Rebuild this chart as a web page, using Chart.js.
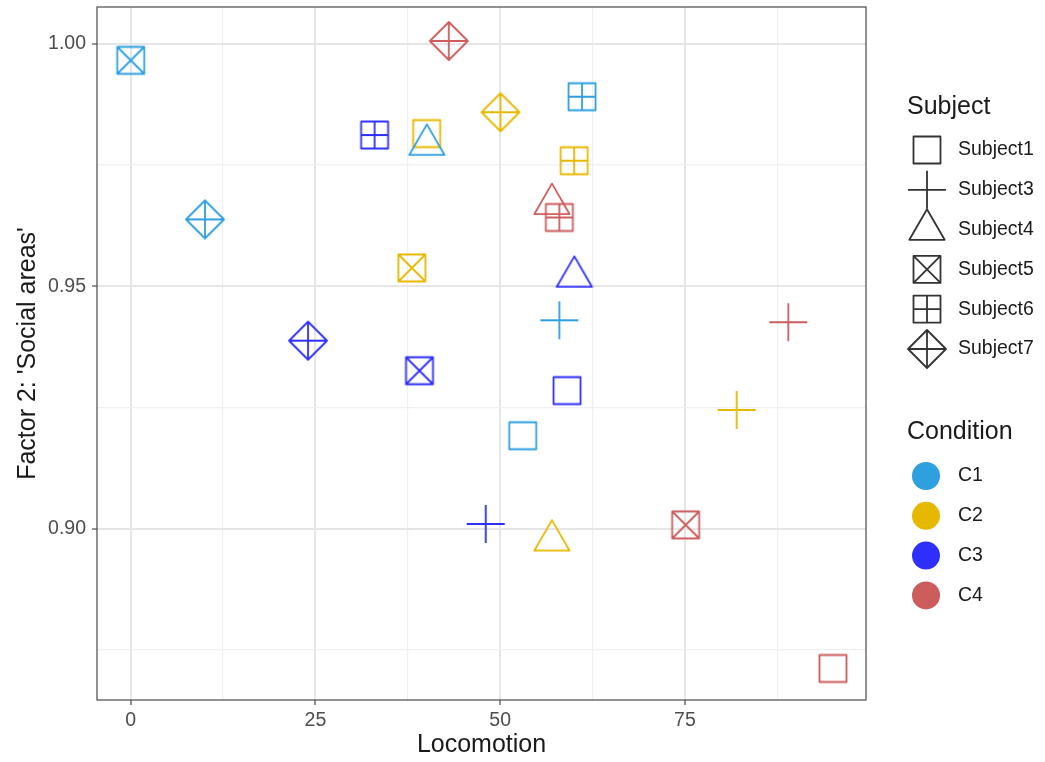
<!DOCTYPE html>
<html>
<head>
<meta charset="utf-8">
<script src="https://cdn.jsdelivr.net/npm/chart.js@4.4.1/dist/chart.umd.min.js"></script>
<style>
  html, body { margin: 0; padding: 0; background: #ffffff; }
  #wrap { position: relative; width: 1045px; height: 762px; }
</style>
</head>
<body>
<div id="wrap"><canvas id="chart"></canvas></div>
<script>
// Categories
const conditions = ['C1', 'C2', 'C3', 'C4'];
const subjects = ['Subject1', 'Subject3', 'Subject4', 'Subject5', 'Subject6', 'Subject7'];
const subjectShapes = ['square', 'plus', 'triangle', 'squareCross', 'squarePlus', 'diamondPlus'];
const conditionColors = ['#2E9FDF', '#E7B800', '#2E2EFF', '#CD5C5C'];

// Locomotion / Factor 2 values per condition, in subject order
const locoC1 = [53.05, 58.0, 40.07, 0.0, 61.07, 10.05];
const socialC1 = [0.9192, 0.9430, 0.9792, 0.9966, 0.9891, 0.9638];
const locoC2 = [40.05, 82.0, 57.0, 38.04, 60.01, 50.04];
const socialC2 = [0.9815, 0.9245, 0.8976, 0.9538, 0.9759, 0.9859];
const locoC3 = [59.04, 48.04, 60.03, 39.08, 33.0, 24.0];
const socialC3 = [0.9285, 0.9010, 0.9520, 0.9326, 0.9812, 0.9388];
const locoC4 = [95.03, 88.98, 57.0, 75.1, 58.0, 43.04];
const socialC4 = [0.8712, 0.9426, 0.9670, 0.9008, 0.9642, 1.0006];

// Axis ticks
const xMajorValues = [0, 25, 50, 75];
const xTickLabels = ['0', '25', '50', '75'];
const xMinorValues = [12.5, 37.5, 62.5, 87.5];
const yMajorValues = [0.90, 0.95, 1.00];
const yTickLabels = ['0.90', '0.95', '1.00'];
const yMinorValues = [0.875, 0.925, 0.975];

const locoByCondition = [locoC1, locoC2, locoC3, locoC4];
const socialByCondition = [socialC1, socialC2, socialC3, socialC4];

const FONT = '"Liberation Sans", Arial, sans-serif';

function drawSymbol(ctx, shape, cx, cy, color, lw) {
  const s = 13.5;     // half side of the square family
  const d = 19;       // half diagonal of diamond / half arm of plus
  const r = 20.4;     // triangle circumradius
  ctx.save();
  ctx.strokeStyle = color;
  ctx.lineWidth = lw;
  ctx.lineJoin = 'round';
  ctx.beginPath();
  if (shape === 'square' || shape === 'squareCross' || shape === 'squarePlus') {
    ctx.rect(cx - s, cy - s, 2 * s, 2 * s);
    if (shape === 'squareCross') {
      ctx.moveTo(cx - s, cy - s); ctx.lineTo(cx + s, cy + s);
      ctx.moveTo(cx + s, cy - s); ctx.lineTo(cx - s, cy + s);
    } else if (shape === 'squarePlus') {
      ctx.moveTo(cx - s, cy); ctx.lineTo(cx + s, cy);
      ctx.moveTo(cx, cy - s); ctx.lineTo(cx, cy + s);
    }
  } else if (shape === 'plus') {
    ctx.moveTo(cx - d, cy); ctx.lineTo(cx + d, cy);
    ctx.moveTo(cx, cy - d); ctx.lineTo(cx, cy + d);
  } else if (shape === 'triangle') {
    ctx.moveTo(cx, cy - r);
    ctx.lineTo(cx + r * Math.sqrt(3) / 2, cy + r / 2);
    ctx.lineTo(cx - r * Math.sqrt(3) / 2, cy + r / 2);
    ctx.closePath();
  } else if (shape === 'diamondPlus') {
    ctx.moveTo(cx, cy - d); ctx.lineTo(cx + d, cy);
    ctx.lineTo(cx, cy + d); ctx.lineTo(cx - d, cy);
    ctx.closePath();
    ctx.moveTo(cx - d, cy); ctx.lineTo(cx + d, cy);
    ctx.moveTo(cx, cy - d); ctx.lineTo(cx, cy + d);
  }
  ctx.stroke();
  ctx.restore();
}

// One small canvas per (condition, subject) used as the point style
const markerImages = conditionColors.map(color => subjectShapes.map(shape => {
  const c = document.createElement('canvas');
  c.width = 50; c.height = 50;
  drawSymbol(c.getContext('2d'), shape, 25, 25, color, 1.8);
  return c;
}));

const datasets = conditions.map((name, ci) => ({
  label: name,
  data: locoByCondition[ci].map((x, i) => ({ x: x, y: socialByCondition[ci][i] })),
  pointStyle: ctx => markerImages[ci][ctx.dataIndex],
  pointRadius: 10,
  pointHoverRadius: 10,
  showLine: false
}));

const near = (v, arr) => arr.findIndex(a => Math.abs(a - v) < 1e-9);

const panelBorder = {
  id: 'panelBorder',
  afterDraw(chart) {
    const { ctx, chartArea: a } = chart;
    ctx.save();
    ctx.strokeStyle = '#4a4a4a';
    ctx.lineWidth = 1.2;
    ctx.strokeRect(a.left, a.top, a.right - a.left, a.bottom - a.top);
    ctx.restore();
  }
};

const sideLegend = {
  id: 'sideLegend',
  afterDraw(chart) {
    const ctx = chart.ctx;
    const symX = 927, textX = 958, titleX = 907, step = 39.8;
    ctx.save();
    ctx.fillStyle = '#1A1A1A';
    ctx.textBaseline = 'middle';
    ctx.textAlign = 'left';
    ctx.font = '25px ' + FONT;
    ctx.fillText('Subject', titleX, 107);
    ctx.font = '19.5px ' + FONT;
    subjects.forEach((name, i) => {
      const y = 150 + i * step;
      drawSymbol(ctx, subjectShapes[i], symX, y, '#333333', 1.8);
      ctx.fillStyle = '#1A1A1A';
      ctx.fillText(name, textX, y);
    });
    ctx.font = '25px ' + FONT;
    ctx.fillText('Condition', titleX, 432);
    ctx.font = '19.5px ' + FONT;
    conditions.forEach((name, i) => {
      const y = 476 + i * step;
      ctx.beginPath();
      ctx.arc(symX - 1, y, 14, 0, Math.PI * 2);
      ctx.fillStyle = conditionColors[i];
      ctx.fill();
      ctx.fillStyle = '#1A1A1A';
      ctx.fillText(name, textX, y);
    });
    ctx.restore();
  }
};

const tickFont = { family: FONT, size: 19.5 };
const titleFont = { family: FONT, size: 25 };

new Chart(document.getElementById('chart'), {
  type: 'scatter',
  data: { datasets: datasets },
  plugins: [panelBorder, sideLegend],
  options: {
    responsive: true,
    maintainAspectRatio: false,
    animation: false,
    events: [],
    layout: { autoPadding: false, padding: { left: 0, right: 179, top: 7, bottom: 0 } },
    plugins: { legend: { display: false }, tooltip: { enabled: false } },
    scales: {
      x: {
        type: 'linear',
        min: -4.56,
        max: 99.5,
        afterBuildTicks: scale => {
          scale.ticks = xMajorValues.concat(xMinorValues).sort((a, b) => a - b).map(v => ({ value: v }));
        },
        afterFit: scale => { scale.height = 62; scale.paddingLeft = 0; scale.paddingRight = 0; },
        border: { display: false },
        grid: {
          color: c => near(c.tick.value, xMajorValues) >= 0 ? '#E6E6E6' : '#F0F0F0',
          lineWidth: c => near(c.tick.value, xMajorValues) >= 0 ? 2 : 1.2,
          tickColor: c => near(c.tick.value, xMajorValues) >= 0 ? '#4a4a4a' : 'rgba(0,0,0,0)',
          tickWidth: 1.2,
          tickLength: 5
        },
        ticks: {
          autoSkip: false,
          maxRotation: 0,
          padding: 4,
          color: '#4D4D4D',
          font: tickFont,
          callback: v => { const k = near(v, xMajorValues); return k >= 0 ? xTickLabels[k] : ''; }
        },
        title: { display: true, text: 'Locomotion', color: '#1A1A1A', font: titleFont, padding: { top: 0, bottom: 2 } }
      },
      y: {
        type: 'linear',
        min: 0.8647,
        max: 1.0076,
        afterBuildTicks: scale => {
          scale.ticks = yMajorValues.concat(yMinorValues).sort((a, b) => a - b).map(v => ({ value: v }));
        },
        afterFit: scale => { scale.width = 97; scale.paddingTop = 0; scale.paddingBottom = 0; },
        border: { display: false },
        grid: {
          color: c => near(c.tick.value, yMajorValues) >= 0 ? '#E6E6E6' : '#F0F0F0',
          lineWidth: c => near(c.tick.value, yMajorValues) >= 0 ? 2 : 1.2,
          tickColor: c => near(c.tick.value, yMajorValues) >= 0 ? '#4a4a4a' : 'rgba(0,0,0,0)',
          tickWidth: 1.2,
          tickLength: 5
        },
        ticks: {
          autoSkip: false,
          padding: 6,
          color: '#4D4D4D',
          font: tickFont,
          callback: v => { const k = near(v, yMajorValues); return k >= 0 ? yTickLabels[k] : ''; }
        },
        title: { display: true, text: "Factor 2: 'Social areas'", color: '#1A1A1A', font: titleFont, padding: { top: 13, bottom: 0 } }
      }
    }
  }
});
</script>
</body>
</html>
